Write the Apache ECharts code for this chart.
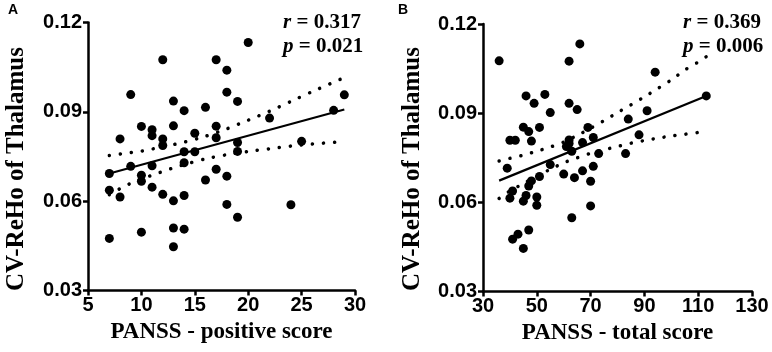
<!DOCTYPE html>
<html>
<head>
<meta charset="utf-8">
<script src="https://cdn.jsdelivr.net/npm/echarts@6/dist/echarts.min.js"></script>
<style>
  html, body { margin: 0; padding: 0; background: #fff; }
  #chart { width: 772px; height: 352px; }
</style>
</head>
<body>
<div id="chart"></div>
<script>
// panel A: PANSS positive score vs CV-ReHo
const posX = [20, 12, 17, 18, 9, 18, 29, 13, 19, 14, 16, 28, 22, 10, 11, 13, 17, 11, 8, 12, 15, 17, 25, 19, 12,
  14, 15, 19, 14, 7, 9, 11, 10, 10, 17, 18, 16, 7, 11, 12, 8, 13, 14, 18, 24, 19, 13, 14, 7, 10, 13];
const posY = [0.1133, 0.1075, 0.1075, 0.1040, 0.0958, 0.0966, 0.0957, 0.0936, 0.0935, 0.0904, 0.0915, 0.0905, 0.0879,
  0.0851, 0.0840, 0.0853, 0.0852, 0.0820, 0.0809, 0.0809, 0.0828, 0.0813, 0.0801, 0.0797, 0.0787, 0.0766, 0.0766,
  0.0767, 0.0729, 0.0693, 0.0717, 0.0719, 0.0687, 0.0667, 0.0707, 0.0684, 0.0671, 0.0637, 0.0647, 0.0623, 0.0614,
  0.0601, 0.0619, 0.0589, 0.0588, 0.0546, 0.0510, 0.0506, 0.0475, 0.0496, 0.0447];
const fitXA = [7, 29];
const fitYA = [0.0693, 0.0908];
const bandXA = [7, 8, 9, 10, 11, 12, 13, 14, 16, 18, 20, 22, 24, 26, 29];
const upperA = [0.0753, 0.0758, 0.0763, 0.0768, 0.0775, 0.0782, 0.0790, 0.0798, 0.0818, 0.0843, 0.0872, 0.0902, 0.0935, 0.0968, 0.1015];
const lowerA = [0.0622, 0.0642, 0.0660, 0.0675, 0.0687, 0.0700, 0.0712, 0.0723, 0.0742, 0.0756, 0.0767, 0.0776, 0.0785, 0.0792, 0.0800];

// panel B: PANSS total score vs CV-ReHo
const totX = [36, 66, 62, 94, 113, 46, 53, 49, 62, 55, 65, 91, 84, 45, 47, 51, 69, 40, 42, 48, 62, 71, 88, 67, 61,
  63, 73, 83, 39, 55, 51, 60, 64, 67, 71, 70, 48, 47, 41, 40, 45, 46, 50, 50, 70, 63, 47, 43, 41, 45, 62];
const totY = [0.1076, 0.1133, 0.1075, 0.1038, 0.0958, 0.0958, 0.0963, 0.0933, 0.0933, 0.0902, 0.0912, 0.0908, 0.0880,
  0.0853, 0.0838, 0.0852, 0.0852, 0.0809, 0.0809, 0.0806, 0.0810, 0.0818, 0.0827, 0.0801, 0.0788, 0.0772, 0.0764,
  0.0764, 0.0715, 0.0727, 0.0687, 0.0695, 0.0683, 0.0706, 0.0721, 0.0671, 0.0672, 0.0655, 0.0638, 0.0614, 0.0604,
  0.0623, 0.0618, 0.0590, 0.0588, 0.0548, 0.0507, 0.0493, 0.0476, 0.0445, 0.0798];
const fitXB = [36, 113];
const fitYB = [0.0673, 0.0958];
const bandXB = [36, 40, 45, 50, 55, 60, 65, 70, 75, 80, 85, 90, 95, 100, 105, 110, 113];
const upperB = [0.0739, 0.0748, 0.0759, 0.0772, 0.0786, 0.0803, 0.0825, 0.0849, 0.0875, 0.0902, 0.0928, 0.0955, 0.0983, 0.1012, 0.1045, 0.1072, 0.1090];
const lowerB = [0.0613, 0.0638, 0.0663, 0.0688, 0.0711, 0.0733, 0.0750, 0.0765, 0.0777, 0.0788, 0.0799, 0.0808, 0.0816, 0.0823, 0.0829, 0.0835, 0.0839];

const yTicks = [0.03, 0.06, 0.09, 0.12];
const xTicksA = [5, 10, 15, 20, 25, 30];
const xTicksB = [30, 50, 70, 90, 110, 130];

const stats = [
  { panel: 'A', r: '0.317', p: '0.021' },
  { panel: 'B', r: '0.369', p: '0.006' }
];
const yName = 'CV-ReHo of Thalamus';

const zip = (xs, ys) => xs.map((x, i) => [x, ys[i]]);

const sansFont = "'Liberation Sans Narrow', 'Arial Narrow', 'Liberation Sans', Arial, sans-serif";
const serifFont = "'Liberation Serif', 'Times New Roman', serif";

function xAxis(idx, ticks, name) {
  return {
    type: 'value', gridIndex: idx,
    min: ticks[0], max: ticks[ticks.length - 1], interval: ticks[1] - ticks[0],
    name: name, nameLocation: 'middle', nameGap: 26,
    nameTextStyle: { fontFamily: serifFont, fontWeight: 'bold', fontSize: 23, color: '#000' },
    axisLine: { show: true, onZero: false, lineStyle: { color: '#000', width: 2.5 } },
    axisTick: { show: true, length: 5, lineStyle: { color: '#000', width: 2.5 } },
    axisLabel: { color: '#000', fontFamily: sansFont, fontWeight: 'bold', fontSize: 20, margin: 5 },
    splitLine: { show: false }
  };
}

function yAxis(idx) {
  return {
    type: 'value', gridIndex: idx,
    min: yTicks[0], max: yTicks[yTicks.length - 1], interval: 0.03,
    axisLine: { show: true, onZero: false, lineStyle: { color: '#000', width: 2.5 } },
    axisTick: { show: true, length: 5, lineStyle: { color: '#000', width: 2.5 } },
    axisLabel: { color: '#000', fontFamily: sansFont, fontWeight: 'bold', fontSize: 20, margin: 6,
      formatter: v => v.toFixed(2) },
    splitLine: { show: false }
  };
}

function panelSeries(idx, xs, ys, fx, fy, bx, up, lo) {
  const dotted = { color: '#000', width: 3.5, type: [0.1, 11], cap: 'round' };
  return [
    { type: 'line', xAxisIndex: idx, yAxisIndex: idx, data: zip(bx, up), showSymbol: false, smooth: 0.3,
      lineStyle: dotted, silent: true },
    { type: 'line', xAxisIndex: idx, yAxisIndex: idx, data: zip(bx, lo), showSymbol: false, smooth: 0.3,
      lineStyle: dotted, silent: true },
    { type: 'line', xAxisIndex: idx, yAxisIndex: idx, data: zip(fx, fy), showSymbol: false,
      lineStyle: { color: '#000', width: 2.2 }, silent: true },
    { type: 'scatter', xAxisIndex: idx, yAxisIndex: idx, data: zip(xs, ys), symbolSize: 9,
      itemStyle: { color: '#000', opacity: 1 } }
  ];
}

const statStyle = {
  fontFamily: serifFont, fontWeight: 'bold', fontSize: 21, color: '#000',
  rich: { i: { fontFamily: serifFont, fontStyle: 'italic', fontWeight: 'bold', fontSize: 21, color: '#000' } }
};

const titles = [];
[283, 683].forEach((left, k) => {
  titles.push({ text: '{i|r} = ' + stats[k].r, left: left, top: 12, padding: 0, textStyle: statStyle });
  titles.push({ text: '{i|p} = ' + stats[k].p, left: left, top: 36, padding: 0, textStyle: statStyle });
  titles.push({ text: stats[k].panel, left: k ? 398 : 8, top: 3, padding: 0,
    textStyle: { fontFamily: "'Liberation Sans', Arial, sans-serif", fontWeight: 'bold', fontSize: 14, color: '#000' } });
});

// rotated y-axis titles, a bit below the grid centre as in the source figure
const yTitles = [17, 413].map(x => ({
  type: 'text', x: x, y: 169, rotation: Math.PI / 2,
  style: { text: yName, fontFamily: serifFont, fontWeight: 'bold', fontSize: 25, fill: '#000',
    align: 'center', verticalAlign: 'middle' }
}));

const option = {
  animation: false,
  backgroundColor: '#fff',
  title: titles,
  graphic: yTitles,
  grid: [
    { left: 88, top: 22.5, width: 267, height: 268 },
    { left: 483, top: 24, width: 269, height: 267.5 }
  ],
  xAxis: [xAxis(0, xTicksA, 'PANSS - positive score'), xAxis(1, xTicksB, 'PANSS - total score')],
  yAxis: [yAxis(0), yAxis(1)],
  series: [
    ...panelSeries(0, posX, posY, fitXA, fitYA, bandXA, upperA, lowerA),
    ...panelSeries(1, totX, totY, fitXB, fitYB, bandXB, upperB, lowerB)
  ]
};

const chart = echarts.init(document.getElementById('chart'), null, { renderer: 'canvas' });
chart.setOption(option);
</script>
</body>
</html>
